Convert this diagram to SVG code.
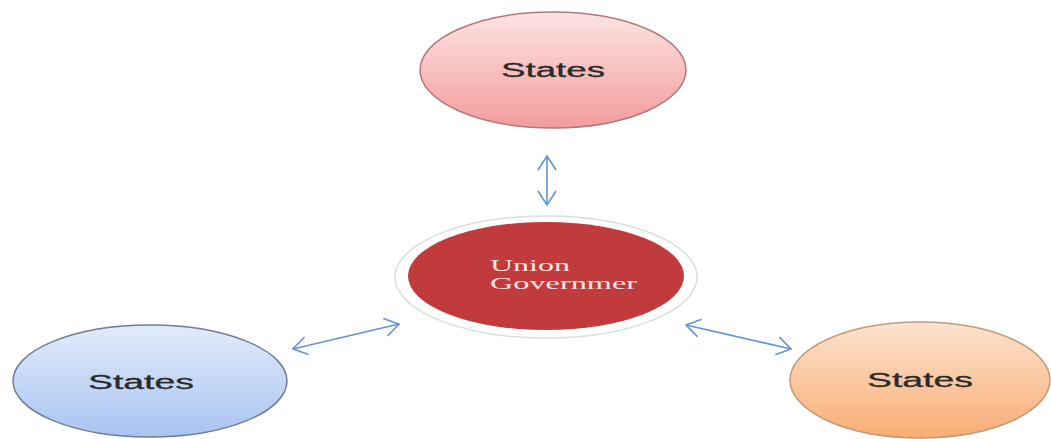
<svg xmlns="http://www.w3.org/2000/svg" width="1051" height="439" viewBox="0 0 1051 439">
<style>
.lbl{font-family:"Liberation Sans",Arial,sans-serif;font-size:20px;fill:#2a2a2a;text-anchor:middle;dominant-baseline:central;stroke:#2a2a2a;stroke-width:0.3}
.ulbl{font-family:"Liberation Serif","Times New Roman",serif;font-size:17px;fill:#f6e6e6}
.conn{stroke:#6394cf;stroke-width:1.6;fill:none;marker-start:url(#ah);marker-end:url(#ah)}
</style>
<defs>
<linearGradient id="gPink" x1="0" y1="0" x2="0" y2="1"><stop offset="0" stop-color="#fde3e3"/><stop offset="1" stop-color="#f39c9c"/></linearGradient>
<linearGradient id="gBlue" x1="0" y1="0" x2="0" y2="1"><stop offset="0" stop-color="#e2ebfb"/><stop offset="1" stop-color="#a9c4f1"/></linearGradient>
<linearGradient id="gOrange" x1="0" y1="0" x2="0" y2="1"><stop offset="0" stop-color="#fde3cf"/><stop offset="1" stop-color="#f8ad74"/></linearGradient>
<marker id="ah" viewBox="0 0 16 20" refX="15" refY="10" markerWidth="16" markerHeight="20" markerUnits="userSpaceOnUse" orient="auto-start-reverse"><path d="M1,1 L15,10 L1,19" fill="none" stroke="#6394cf" stroke-width="1.6"/></marker>
</defs>
<rect width="1051" height="439" fill="#ffffff"/>
<g id="connectors">
<line class="conn" x1="547" y1="156" x2="547" y2="205"/>
<line class="conn" x1="293" y1="349" x2="399" y2="324"/>
<line class="conn" x1="686" y1="325" x2="791" y2="349"/>
</g>
<g id="states-top">
<ellipse cx="553" cy="70" rx="133" ry="58" fill="url(#gPink)" stroke="#b07a7a" stroke-width="1.5"/>
<text class="lbl" x="553" y="70" textLength="104" lengthAdjust="spacingAndGlyphs">States</text>
</g>
<g id="union-government">
<ellipse cx="546" cy="277" rx="151" ry="61" fill="#ffffff" stroke="#d8dede" stroke-width="1.5"/>
<ellipse cx="546" cy="276" rx="138" ry="54" fill="#c13b3d"/>
<text class="ulbl" x="490" y="271" textLength="80" lengthAdjust="spacingAndGlyphs">Union</text>
<text class="ulbl" x="490" y="289" textLength="147" lengthAdjust="spacingAndGlyphs">Governmer</text>
</g>
<g id="states-left">
<ellipse cx="150" cy="381" rx="137" ry="56" fill="url(#gBlue)" stroke="#707d98" stroke-width="1.5"/>
<text class="lbl" x="141" y="382" textLength="106" lengthAdjust="spacingAndGlyphs">States</text>
</g>
<g id="states-right">
<ellipse cx="920" cy="380" rx="130" ry="58" fill="url(#gOrange)" stroke="#c29a78" stroke-width="1.5"/>
<text class="lbl" x="920" y="380" textLength="106" lengthAdjust="spacingAndGlyphs">States</text>
</g>
</svg>
